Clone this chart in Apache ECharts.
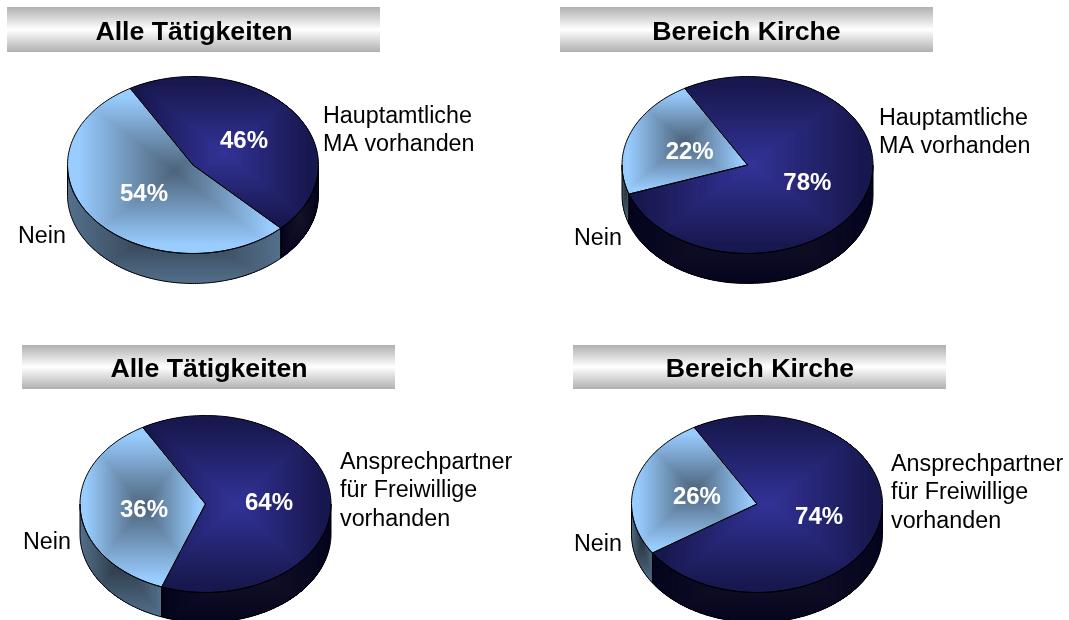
<!DOCTYPE html>
<html>
<head>
<meta charset="utf-8">
<title>Hauptamtliche und Ansprechpartner</title>
<script src="https://cdn.jsdelivr.net/npm/echarts@6/dist/echarts.min.js"></script>
<style>
    html, body { margin: 0; padding: 0; background: #fff; }
    #chart { width: 1069px; height: 620px; }
</style>
</head>
<body>
<div id="chart"></div>
<script>
// values in percent, first slice starts at startAngle and runs clockwise
const panelTitles = ['Alle Tätigkeiten', 'Bereich Kirche', 'Alle Tätigkeiten', 'Bereich Kirche'];
const namesMA = ['Hauptamtliche\nMA vorhanden', 'Nein'];
const namesFreiwillige = ['Ansprechpartner\nfür Freiwillige\nvorhanden', 'Nein'];
const allMA = [46, 54];
const kircheMA = [78, 22];
const allFreiwillige = [64, 36];
const kircheFreiwillige = [74, 26];
const startAngle = -30;

// layout only
const panels = [
    { values: allMA, names: namesMA, cx: 193, cy: 165, bar: [7, 7, 373, 45], titleX: 194, titleY: 33, nameAt: [[323, 102], [18, 222]] },
    { values: kircheMA, names: namesMA, cx: 747.5, cy: 165, bar: [560, 7, 373, 45], titleX: 746.5, titleY: 33, nameAt: [[879, 104], [574, 224]] },
    { values: allFreiwillige, names: namesFreiwillige, cx: 205.5, cy: 504, bar: [22, 345, 373, 44], titleX: 209, titleY: 370, nameAt: [[340, 448], [23, 528]] },
    { values: kircheFreiwillige, names: namesFreiwillige, cx: 757, cy: 504, bar: [573, 345, 373, 44], titleX: 760, titleY: 370, nameAt: [[891, 450], [574, 530]] }
];
const rx = 125.5, ry = 88.5, depth = 30;

const FONT = '"Liberation Sans", Arial, sans-serif';
const topColors = [
    { inner: [51, 51, 153], outer: [24, 24, 80] },
    { inner: [76, 98, 120], outer: [153, 204, 255] }
];
const rimColors = [
    { inner: [22, 20, 40], outer: [4, 4, 30] },
    { inner: [42, 54, 66], outer: [84, 112, 140] }
];

function pt(cx, cy, deg, k, dy) {
    const a = deg * Math.PI / 180;
    return [cx + rx * k * Math.sin(a), cy - ry * k * Math.cos(a) + (dy || 0)];
}

function arcPoints(cx, cy, from, to, dy) {
    const out = [];
    const n = Math.max(2, Math.ceil(Math.abs(to - from)));
    for (let i = 0; i <= n; i++) {
        out.push(pt(cx, cy, from + (to - from) * i / n, 1, dy));
    }
    return out;
}

function bbox(points) {
    const xs = points.map(p => p[0]);
    const ys = points.map(p => p[1]);
    return [Math.min(...xs), Math.min(...ys), Math.max(...xs), Math.max(...ys)];
}

// rectangular "path" gradient: nested rects clipped to the slice shape
function shaded(points, colors, reach) {
    const b = bbox(points);
    const mx = (b[0] + b[2]) / 2, my = (b[1] + b[3]) / 2;
    const w = (b[2] - b[0]) / 2 + 1, h = (b[3] - b[1]) / 2 + 1;
    const rects = [];
    const steps = 40;
    for (let i = steps; i >= 1; i--) {
        const t = i / steps;
        const c = Math.min(1, t / reach);
        const col = colors.inner.map((v, j) => Math.round(v + (colors.outer[j] - v) * c));
        rects.push({
            type: 'rect',
            shape: { x: mx - w * t, y: my - h * t, width: 2 * w * t, height: 2 * h * t },
            style: { fill: 'rgb(' + col.join(',') + ')' }
        });
    }
    return {
        type: 'group',
        children: rects,
        clipPath: { type: 'polygon', shape: { points: points } }
    };
}

function outline(points) {
    return {
        type: 'polygon',
        shape: { points: points },
        style: { fill: 'none', stroke: '#000', lineWidth: 1 },
        z2: 5
    };
}

function makeRender(panel) {
    return function (params, api) {
        const idx = params.dataIndex;
        const value = api.value(0);
        let before = 0;
        for (let i = 0; i < idx; i++) before += panel.values[i];
        const from = startAngle + before * 3.6;
        const to = from + value * 3.6;
        const children = [];

        // side wall, only the front half (90..270 deg) is visible
        [[from, to], [from - 360, to - 360], [from + 360, to + 360]].forEach(function (r) {
            const a = Math.max(r[0], 90), b = Math.min(r[1], 270);
            if (b > a) {
                const wall = arcPoints(panel.cx, panel.cy, a, b, 0)
                    .concat(arcPoints(panel.cx, panel.cy, b, a, depth));
                children.push(shaded(wall, rimColors[idx], 1));
                children.push(outline(wall));
            }
        });

        const face = [[panel.cx, panel.cy]].concat(arcPoints(panel.cx, panel.cy, from, to, 0));
        children.push(shaded(face, topColors[idx], 0.9));
        children.push(outline(face));

        const mid = pt(panel.cx, panel.cy, (from + to) / 2, 0.5);
        children.push({
            type: 'text',
            z2: 10,
            style: {
                text: value + '%', x: mid[0] + 1, y: mid[1] + 3, fill: '#fff',
                font: 'bold 24px ' + FONT, align: 'center', verticalAlign: 'middle'
            }
        });
        children.push({
            type: 'text',
            z2: 10,
            style: {
                text: panel.names[idx], x: panel.nameAt[idx][0], y: panel.nameAt[idx][1], fill: '#000',
                font: '23.3px ' + FONT, lineHeight: 28.5, align: 'left', verticalAlign: 'top'
            }
        });
        return { type: 'group', children: children };
    };
}

const myChart = echarts.init(document.getElementById('chart'), null, { renderer: 'canvas' });

const option = {
    animation: false,
    backgroundColor: '#fff',
    title: panels.map((p, i) => ({
        text: panelTitles[i],
        left: p.titleX,
        top: p.titleY,
        textAlign: 'center',
        textVerticalAlign: 'middle',
        padding: 0,
        textStyle: { fontFamily: FONT, fontWeight: 'bold', fontSize: 26.7, color: '#000' }
    })),
    graphic: panels.map(p => ({
        type: 'rect',
        silent: true,
        shape: { x: p.bar[0], y: p.bar[1], width: p.bar[2], height: p.bar[3] },
        style: {
            fill: new echarts.graphic.LinearGradient(0, 0, 0, 1, [
                { offset: 0, color: '#b0b0b0' },
                { offset: 0.5, color: '#ffffff' },
                { offset: 1, color: '#b0b0b0' }
            ])
        }
    })),
    series: panels.map(p => ({
        type: 'custom',
        coordinateSystem: 'none',
        silent: true,
        renderItem: makeRender(p),
        data: p.values
    }))
};

myChart.setOption(option);
</script>
</body>
</html>
